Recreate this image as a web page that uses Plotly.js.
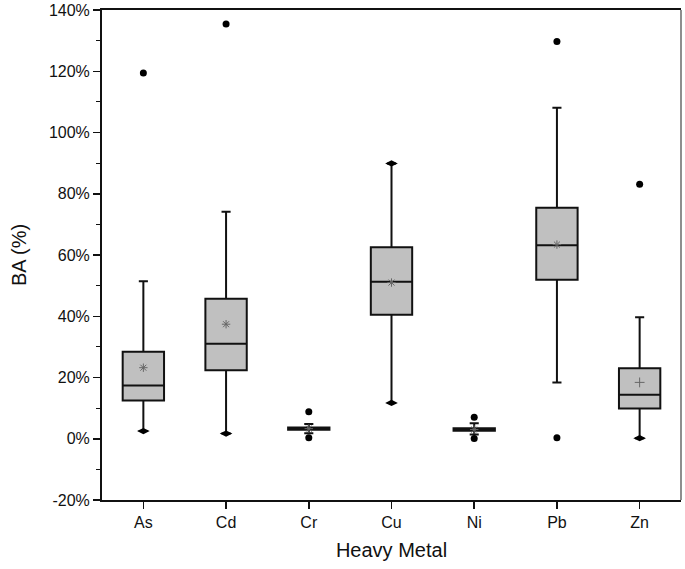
<!DOCTYPE html>
<html>
<head>
<meta charset="utf-8">
<script src="https://cdn.plot.ly/plotly-3.0.1.min.js"></script>
<style>html,body{margin:0;padding:0;background:#fff;}#chart{width:685px;height:569px;}</style>
</head>
<body>
<div id="chart"></div>
<script>
// Heavy metal bioaccessibility (BA, %) box statistics
const metals = ["As", "Cd", "Cr", "Cu", "Ni", "Pb", "Zn"];
const q1Vals = [12.5, 22.4, 2.9, 40.5, 2.6, 51.9, 9.9];
const medianVals = [17.4, 31.0, 3.3, 51.3, 3.0, 63.2, 14.4];
const q3Vals = [28.4, 45.7, 3.7, 62.5, 3.4, 75.4, 23.0];
const lowerWhisker = [2.5, 1.7, 1.8, 11.7, 1.4, 18.4, 0.2];
const upperWhisker = [51.4, 74.1, 4.8, 89.9, 5.1, 108.1, 39.7];
const meanVals = [23.2, 37.4, 3.3, 51.0, 3.0, 63.4, 18.4];
const meanSymbols = ["asterisk-open", "asterisk-open", "asterisk-open", "asterisk-open", "asterisk-open", "asterisk-open", "cross-thin-open"];
// outliers
const outlierCats = ["As", "Cd", "Cr", "Cr", "Ni", "Ni", "Pb", "Pb", "Zn"];
const outlierVals = [119.4, 135.4, 8.8, 0.3, 7.0, 0.1, 129.7, 0.3, 83.1];
// min/max markers at whisker ends
const extremeCats = ["As", "Cd", "Cu", "Cu", "Zn"];
const extremeVals = [2.5, 1.7, 89.9, 11.7, 0.2];
const yTickVals = [-20, 0, 20, 40, 60, 80, 100, 120, 140];
const yTickText = yTickVals.map(v => v + "%");

const traces = [
  {
    type: "box",
    x: metals,
    q1: q1Vals,
    median: medianVals,
    q3: q3Vals,
    lowerfence: lowerWhisker,
    upperfence: upperWhisker,
    boxpoints: false,
    width: 0.5,
    whiskerwidth: 0.22,
    fillcolor: "#c0c0c0",
    line: {color: "#111", width: 2},
    hoverinfo: "skip",
    showlegend: false
  },
  {
    type: "scatter", mode: "markers",
    x: metals, y: meanVals,
    marker: {symbol: meanSymbols, size: 7, color: "#666", line: {color: "#666", width: 1}},
    hoverinfo: "skip", showlegend: false
  },
  {
    type: "scatter", mode: "markers",
    x: extremeCats, y: extremeVals,
    marker: {symbol: "diamond-wide", size: 9, color: "#000"},
    hoverinfo: "skip", showlegend: false
  },
  {
    type: "scatter", mode: "markers",
    x: outlierCats, y: outlierVals,
    marker: {symbol: "circle", size: 7, color: "#000"},
    hoverinfo: "skip", showlegend: false
  }
];

const layout = {
  width: 685, height: 569,
  margin: {l: 102, r: 4, t: 10, b: 69},
  paper_bgcolor: "#fff", plot_bgcolor: "#fff",
  font: {family: "Liberation Sans, Arial, sans-serif", color: "#111"},
  xaxis: {
    type: "category",
    categoryorder: "array", categoryarray: metals,
    range: [-0.5, 6.5],
    showgrid: false, zeroline: false,
    showline: true, linecolor: "#111", linewidth: 2, mirror: true,
    ticks: "outside", ticklen: 7, tickwidth: 1.5, tickcolor: "#111",
    tickfont: {size: 16},
    title: {text: "Heavy Metal", font: {size: 20}, standoff: 13}
  },
  yaxis: {
    range: [-20, 140],
    tickvals: yTickVals, ticktext: yTickText,
    showgrid: false, zeroline: false,
    showline: true, linecolor: "#111", linewidth: 2, mirror: false,
    ticks: "outside", ticklen: 7, tickwidth: 1.5, tickcolor: "#111",
    tickfont: {size: 16},
    minor: {dtick: 10, tick0: 0, ticks: "outside", ticklen: 4, tickwidth: 1.2, tickcolor: "#111"},
    title: {text: "BA (%)", font: {size: 20}, standoff: 17}
  },
  shapes: [
    {type: "line", xref: "paper", yref: "paper", x0: 1, x1: 1, y0: 0, y1: 1, line: {color: "#444", width: 1.2}}
  ]
};

Plotly.newPlot("chart", traces, layout, {displayModeBar: false, staticPlot: true});
</script>
</body>
</html>
